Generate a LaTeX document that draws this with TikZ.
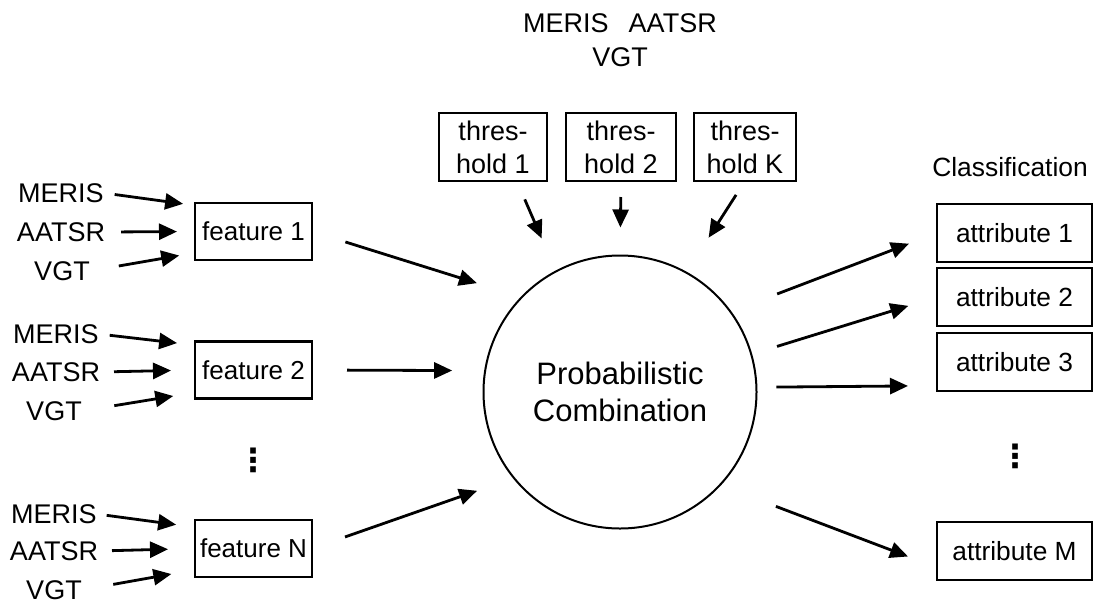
\documentclass[tikz,border=0pt]{standalone}
\usepackage{fontspec}
\setmainfont{Liberation Sans}
\newfontfamily\symfont{DejaVu Sans}
\usetikzlibrary{arrows.meta}
\begin{document}
\begin{tikzpicture}[x=1pt,y=-1pt,
  every node/.style={outer sep=0pt},
  lbl/.style={inner sep=0pt, font=\fontsize{27}{32}\selectfont},
  box/.style={draw, line width=2.4pt, inner sep=0pt, align=center},
  feat/.style={box, minimum width=117pt, minimum height=57pt, font=\fontsize{26}{31}\selectfont},
  attr/.style={box, minimum width=155pt, minimum height=58pt, font=\fontsize{26.3}{31}\selectfont},
  thr/.style={box, minimum height=68pt, font=\fontsize{27}{33}\selectfont},
  arr/.style={line width=2.8pt, -{Triangle[length=18pt,width=16pt]}},
  dots/.style={inner sep=0pt, font=\symfont\bfseries\fontsize{32}{32}\selectfont},
]
\useasboundingbox (0,0) rectangle (1094,603);

% top labels
\node[lbl, align=center, font=\fontsize{27}{34}\selectfont] (top) at (620,40) {MERIS\hspace{20pt}AATSR\\VGT};

% thresholds
\node[thr, minimum width=108pt] (th1) at (493,147) {thres-\\hold 1};
\node[thr, minimum width=110pt] (th2) at (621,147) {thres-\\hold 2};
\node[thr, minimum width=102pt] (thK) at (745,147) {thres-\\hold K};

% central circle
\node[draw, circle, line width=2pt, minimum size=273pt, inner sep=0pt, align=center,
      font=\fontsize{31}{37.5}\selectfont] (pc) at (620,392) {Probabilistic\\Combination};

% group 1
\node[lbl] (m1) at (61,193) {MERIS};
\node[lbl] (a1) at (61,232) {AATSR};
\node[lbl] (v1) at (62,271) {VGT};
\node[feat] (f1) at (253.5,231.5) {feature 1};
% group 2
\node[lbl] (m2) at (56,334) {MERIS};
\node[lbl] (a2) at (56,372) {AATSR};
\node[lbl] (v2) at (54,411) {VGT};
\node[feat] (f2) at (253.5,370) {feature 2};
% group N
\node[lbl] (m3) at (54,514) {MERIS};
\node[lbl] (a3) at (54,551) {AATSR};
\node[lbl] (v3) at (54,590) {VGT};
\node[feat] (f3) at (253.5,548.5) {feature N};

\node[dots] (ld) at (253,460) {⋮};

% outputs
\node[lbl, font=\fontsize{26.4}{31}\selectfont] (cl) at (1010,167) {Classification};
\node[attr] (at1) at (1014.5,233) {attribute 1};
\node[attr] (at2) at (1014.5,297) {attribute 2};
\node[attr] (at3) at (1014.5,362) {attribute 3};
\node[dots] (rd) at (1015,456) {⋮};
\node[attr] (atM) at (1014.5,551) {attribute M};

% input arrows
\draw[arr, shorten <=11pt, shorten >=12pt] (m1.east) -- (f1.156);
\draw[arr, shorten <=16pt, shorten >=18pt] (a1.east) -- (f1.west);
\draw[arr, shorten <=29.5pt, shorten >=16pt] (v1.east) -- (f1.200);
\draw[arr, shorten <=11pt, shorten >=18pt] (m2.east) -- (f2.157);
\draw[arr, shorten <=14pt, shorten >=24pt] (a2.east) -- (f2.west);
\draw[arr, shorten <=33pt, shorten >=22pt] (v2.east) -- (f2.201);
\draw[arr, shorten <=10pt, shorten >=19pt] (m3.east) -- (f3.160);
\draw[arr, shorten <=14pt, shorten >=27pt] (a3.east) -- (f3.west);
\draw[arr, shorten <=32pt, shorten >=24pt] (v3.east) -- (f3.200);

% features to combination
\draw[arr, shorten <=35pt, shorten >=47pt] (f1.east) -- (pc.136);
\draw[arr, shorten <=35pt, shorten >=33pt] (f2.east) -- (pc.171);
\draw[arr, shorten <=35pt, shorten >=39pt] (f3.east) -- (pc.219);

% thresholds to combination
\draw[arr, shorten <=20pt, shorten >=36pt] (th1.305) -- (pc.118);
\draw[arr, shorten <=16pt, shorten >=28pt] (th2.south) -- (pc.north);
\draw[arr, shorten <=16.5pt, shorten >=41.5pt] (thK.south) -- (pc.61);

% combination to attributes
\draw[arr, shorten <=50pt, shorten >=30pt] (pc.36) -- (at1.west);
\draw[arr, shorten <=27pt, shorten >=30pt] (pc.16.6) -- (at2.west);
\draw[arr, shorten <=20pt, shorten >=29pt] (pc.2.5) -- (at3.197);
\draw[arr, shorten <=60pt, shorten >=31pt] (pc.317.7) -- (atM.192);
\end{tikzpicture}
\end{document}
